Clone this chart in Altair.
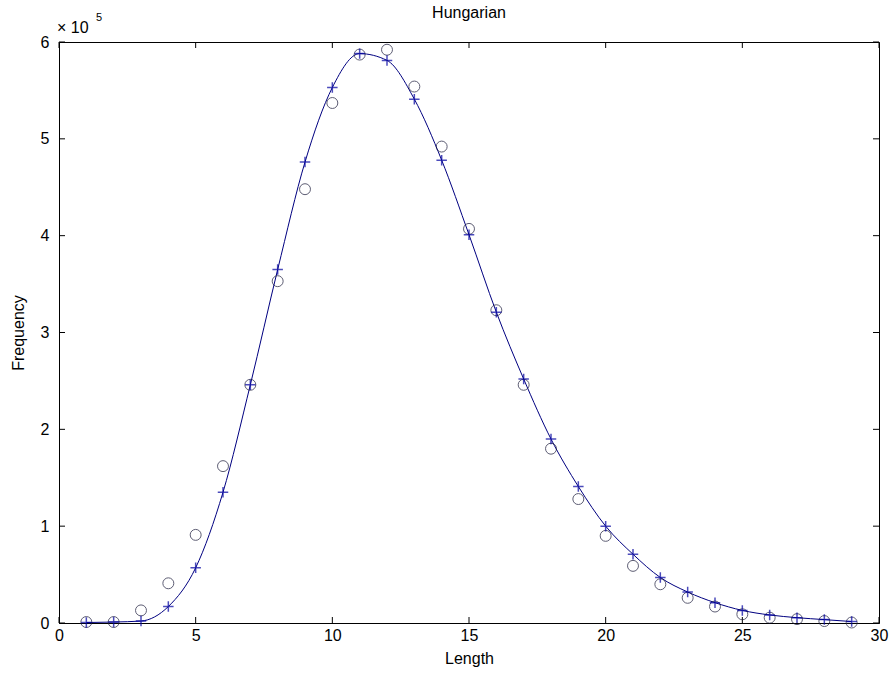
import altair as alt
import pandas as pd

lengths = list(range(1, 30))
observed = [1000, 1000, 13000, 41000, 91000, 162000, 246000, 353000, 448000, 537000,
            587000, 592000, 554000, 492000, 407000, 323000, 246000, 180000, 128000, 90000,
            59000, 40000, 26000, 17000, 9000, 5500, 4000, 2000, 500]
fitted = [500, 1000, 2000, 17000, 57000, 135000, 246000, 365000, 476000, 553000,
          588000, 581000, 541000, 478000, 401000, 321000, 252000, 190000, 141000, 100000,
          71000, 47000, 32000, 21000, 13000, 8300, 5500, 3500, 1500]
x_ticks = [0, 5, 10, 15, 20, 25, 30]
y_ticks = [0, 100000, 200000, 300000, 400000, 500000, 600000]
title_text = ["Hungarian"]

W, H = 820, 581
FONT = "Liberation Sans"
FS = 16

df = pd.DataFrame({"Length": lengths, "observed": observed, "fitted": fitted})
xt = pd.DataFrame({"v": x_ticks})
yt = pd.DataFrame({"v": y_ticks})

xs = alt.Scale(domain=[0, 30], nice=False, zero=False)
ys = alt.Scale(domain=[0, 600000], nice=False)

xaxis = alt.Axis(values=x_ticks, ticks=False, grid=False, labelPadding=4,
                 title="Length", titlePadding=7, labelFlush=False,
                 domainColor="black", labelColor="black", titleColor="black")
yaxis = alt.Axis(values=y_ticks, ticks=False, grid=False, labelPadding=10,
                 labelExpr="datum.value / 100000", title="Frequency", titlePadding=14,
                 domainColor="black", labelColor="black", titleColor="black")

base = alt.Chart(df)

line = base.mark_line(color="#000080", strokeWidth=1, interpolate="monotone").encode(
    x=alt.X("Length:Q", scale=xs, axis=xaxis),
    y=alt.Y("fitted:Q", scale=ys, axis=yaxis),
)
plus = base.mark_point(shape="M-1,0L1,0M0,-1L0,1", size=110, color="#0000a0",
                       strokeWidth=1.5, filled=False).encode(
    x=alt.X("Length:Q", scale=xs), y=alt.Y("fitted:Q", scale=ys))
circ = base.mark_point(shape="circle", size=120, color="#1a1a3a",
                       strokeWidth=1, filled=False).encode(
    x=alt.X("Length:Q", scale=xs), y=alt.Y("observed:Q", scale=ys))

tk = 6
xb = alt.Chart(xt).mark_rule(color="black").encode(
    x=alt.X("v:Q", scale=xs), y=alt.value(H), y2=alt.value(H - tk))
xtop = alt.Chart(xt).mark_rule(color="black").encode(
    x=alt.X("v:Q", scale=xs), y=alt.value(0), y2=alt.value(tk))
yl = alt.Chart(yt).mark_rule(color="black").encode(
    y=alt.Y("v:Q", scale=ys), x=alt.value(0), x2=alt.value(tk))
yr = alt.Chart(yt).mark_rule(color="black").encode(
    y=alt.Y("v:Q", scale=ys), x=alt.value(W), x2=alt.value(W - tk))

exp_df = pd.DataFrame({"t": ["× 10"], "s": ["5"], "title": title_text})
exp_main = alt.Chart(exp_df).mark_text(font=FONT, fontSize=FS, align="left",
                                       baseline="alphabetic", color="black").encode(
    text="t:N", x=alt.value(-2), y=alt.value(-9))
exp_sup = alt.Chart(exp_df).mark_text(font=FONT, fontSize=11, align="left",
                                      baseline="alphabetic", color="black").encode(
    text="s:N", x=alt.value(37), y=alt.value(-21))
title = alt.Chart(exp_df).mark_text(font=FONT, fontSize=FS, align="center",
                                    baseline="alphabetic", color="black").encode(
    text="title:N", x=alt.value(W / 2), y=alt.value(-24))

chart = alt.layer(line, xb, xtop, yl, yr, circ, plus, exp_main, exp_sup, title).properties(
    width=W, height=H,
    autosize="none",
    padding={"left": 59, "top": 42, "right": 11, "bottom": 50},
).configure_view(stroke="black", strokeWidth=1).configure_axis(
    labelFont=FONT, titleFont=FONT, labelFontSize=FS, titleFontSize=FS,
    titleFontWeight="normal", domainWidth=1
)

chart.save("out.html", embed_options={"renderer": "svg", "actions": False})
